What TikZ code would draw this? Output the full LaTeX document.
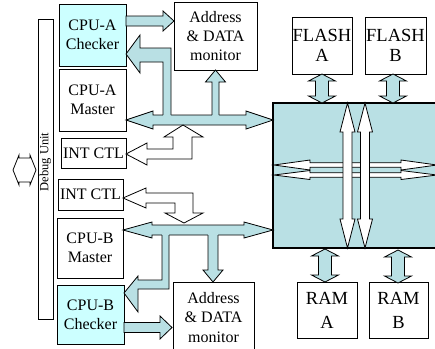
\documentclass[tikz,border=0pt]{standalone}
\usepackage{fontspec}
\setmainfont{Liberation Serif}
\definecolor{lb}{RGB}{185,224,228}
\definecolor{cy}{RGB}{204,255,255}
\newcommand\dblH[7]{\filldraw[#1] (#2,#4) -- (#2+#7,#4-#6) -- (#2+#7,#4-#5) -- (#3-#7,#4-#5) -- (#3-#7,#4-#6) -- (#3,#4) -- (#3-#7,#4+#6) -- (#3-#7,#4+#5) -- (#2+#7,#4+#5) -- (#2+#7,#4+#6) -- cycle;}
\newcommand\dblV[7]{\filldraw[#1] (#4,#2) -- (#4+#6,#2+#7) -- (#4+#5,#2+#7) -- (#4+#5,#3-#7) -- (#4+#6,#3-#7) -- (#4,#3) -- (#4-#6,#3-#7) -- (#4-#5,#3-#7) -- (#4-#5,#2+#7) -- (#4-#6,#2+#7) -- cycle;}
\newcommand\sglR[7]{\filldraw[#1] (#2,#4-#5) -- (#3-#7,#4-#5) -- (#3-#7,#4-#6) -- (#3,#4) -- (#3-#7,#4+#6) -- (#3-#7,#4+#5) -- (#2,#4+#5) -- cycle;}
\begin{document}
\begin{tikzpicture}[x=1pt,y=-1pt,
  box/.style={draw, line width=0.9pt, fill=white, align=center, inner sep=0pt, font=\fontsize{16}{19}\selectfont},
  bigbox/.style={box, font=\fontsize{18.5}{20}\selectfont},
  rambox/.style={box, font=\fontsize{18.5}{24}\selectfont},
  lba/.style={fill=lb, draw=black, line width=0.8pt, line join=miter},
  wa/.style={fill=white, draw=black, line width=0.8pt, line join=miter},
  lbf/.style={fill=lb},
  ol/.style={draw=black, line width=0.8pt, line join=miter}]
\path[use as bounding box, clip] (0,0) rectangle (435,348);
\fill[white] (0,0) rectangle (435,348);

% boxes
\node[box, fill=cy, minimum width=67pt, minimum height=62pt] (chkA) at (92.5,35) {CPU-A\\Checker};
\node[box, minimum width=67pt, minimum height=62pt] (mstA) at (92.5,100) {CPU-A\\Master};
\node[box, minimum width=65pt, minimum height=30pt] (intA) at (93.5,153) {INT CTL};
\node[box, minimum width=65pt, minimum height=31pt] (intB) at (90.5,194.5) {INT CTL};
\node[box, minimum width=66pt, minimum height=60pt] (mstB) at (90,248) {CPU-B\\Master};
\node[box, fill=cy, minimum width=67pt, minimum height=59pt] (chkB) at (90.5,314.5) {CPU-B\\Checker};
\node[box, minimum width=15pt, minimum height=300pt] (dbg) at (45.5,169) {};
\node[rotate=90, inner sep=0pt, font=\fontsize{12.5}{14}\selectfont] (dbgt) at (45.5,162) {Debug Unit};
\node[box, minimum width=83pt, minimum height=68pt] (monA) at (215.5,36) {Address\\\& DATA\\monitor};
\node[box, minimum width=81pt, minimum height=83pt] (monB) at (213.5,323.5) {};
\node[align=center, inner sep=0pt, font=\fontsize{16}{19.5}\selectfont] (monBt) at (213.5,317.5) {Address\\\& DATA\\monitor};
\node[bigbox, minimum width=60pt, minimum height=57pt] (flA) at (322,45.5) {FLASH\\A};
\node[bigbox, minimum width=61pt, minimum height=57pt] (flB) at (395.5,45.5) {FLASH\\B};
\node[rambox, minimum width=60pt, minimum height=56pt] (ramA) at (327,310) {RAM\\A};
\node[rambox, minimum width=59pt, minimum height=56pt] (ramB) at (398.5,310) {RAM\\B};
\node[draw, line width=2pt, fill=lb, minimum width=177pt, minimum height=145pt, inner sep=0pt] (core) at (361.5,175.5) {};

% left debug double arrow
\dblH{wa}{13}{36}{170}{12}{15}{6}

% CPU-A checker -> monitor
\sglR{lba}{126}{174}{21}{5}{10}{11}
% top bus
\dblH{lba}{126}{273}{120}{5}{9}{27}
% top L arrow to checker A
\fill[lbf] (126,54) -- (140,35) -- (140,48) -- (171,48) -- (171,116) -- (163,116) -- (163,62) -- (140,62) -- (140,73) -- cycle;
\draw[ol] (163,115) -- (163,62) -- (140,62) -- (140,73) -- (126,54) -- (140,35) -- (140,48) -- (171,48) -- (171,115);
% up arrow to monitor A
\fill[lbf] (212,116) -- (212,82) -- (205.5,82) -- (215.5,70) -- (225.5,82) -- (219,82) -- (219,116) -- cycle;
\draw[ol] (212,115) -- (212,82) -- (205.5,82) -- (215.5,70) -- (225.5,82) -- (219,82) -- (219,115);
% INT CTL A connector
\filldraw[wa] (126,154) -- (147,143) -- (147,149) -- (173,149) -- (173,137) -- (164,137) -- (183,125) -- (203,137) -- (192,137) -- (192,159) -- (147,159) -- (147,165) -- cycle;

% INT CTL B connector
\filldraw[wa] (123,198) -- (146,188) -- (146,193) -- (193,193) -- (193,213) -- (203,213) -- (184,223) -- (165,213) -- (175,213) -- (175,203) -- (146,203) -- (146,208) -- cycle;
% bottom bus
\dblH{lba}{123}{273}{230}{5}{8}{29}
% bottom L arrow to checker B
\fill[lbf] (124,293) -- (138,276) -- (138,280) -- (162,280) -- (162,234) -- (169,234) -- (169,289) -- (138,289) -- (138,312) -- cycle;
\draw[ol] (162,235) -- (162,280) -- (138,280) -- (138,276) -- (124,293) -- (138,312) -- (138,289) -- (169,289) -- (169,235);
% down arrow to monitor B
\fill[lbf] (208,234) -- (208,270) -- (203,270) -- (213,282) -- (223,270) -- (218,270) -- (218,234) -- cycle;
\draw[ol] (208,235) -- (208,270) -- (203,270) -- (213,282) -- (223,270) -- (218,270) -- (218,235);
% CPU-B checker -> monitor B
\sglR{lba}{124}{172}{327.5}{5}{11.5}{12}

% flash / ram arrows
\dblV{lba}{74}{103}{322}{6.5}{13.5}{7}
\dblV{lba}{74}{103}{393}{6.5}{13.5}{7}
\dblV{lba}{249}{282}{325}{6.5}{13.5}{7}
\dblV{lba}{250}{283}{398}{6.5}{13.5}{7}

% central white arrows
\dblH{wa}{274}{437}{165}{2.2}{5}{36}
\dblH{wa}{274}{437}{175}{2.2}{4.5}{36}
\dblV{wa}{103}{248}{347.5}{4.5}{7.5}{29}
\dblV{wa}{103}{248}{365}{4.5}{7.5}{29}
\end{tikzpicture}
\end{document}
